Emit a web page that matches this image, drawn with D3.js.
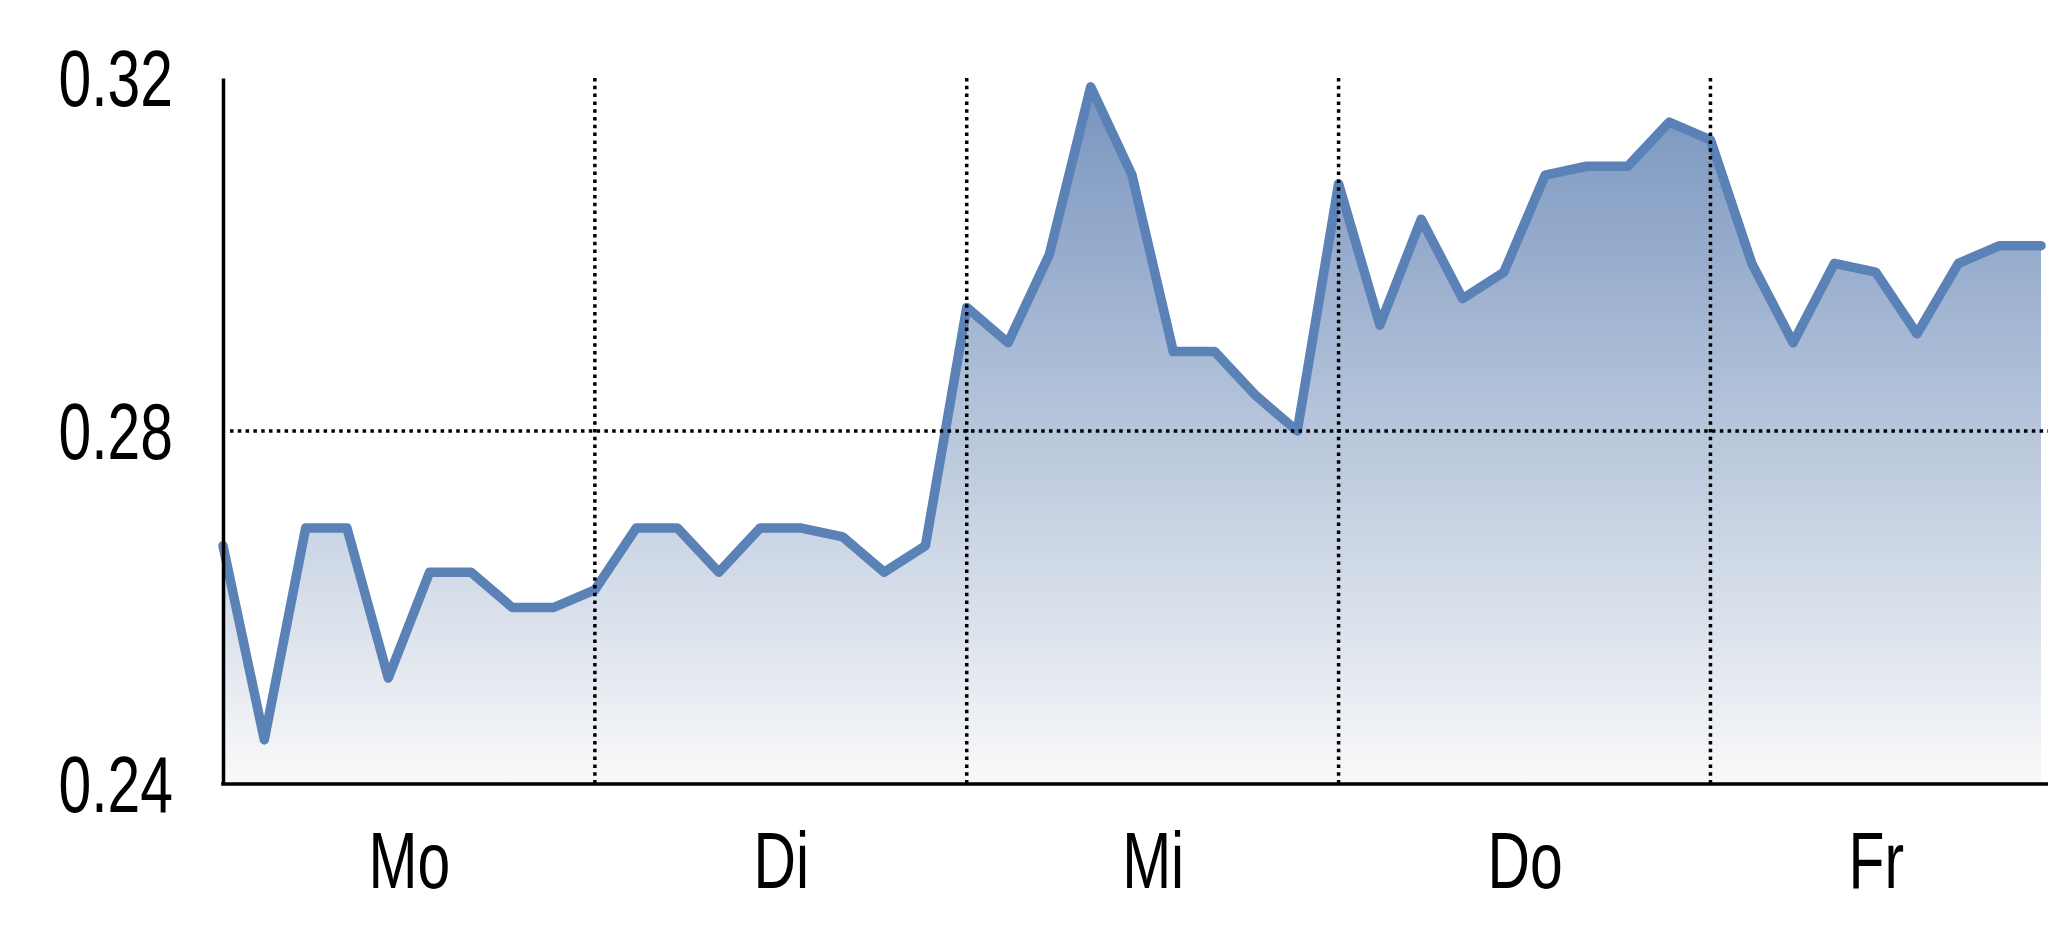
<!DOCTYPE html>
<html lang="de">
<head>
  <meta charset="UTF-8">
  <title>Wochenverlauf</title>
  <style>
    body { margin: 0; background: #fff; }
    svg { display: block; }
    text { font-family: "Liberation Sans", Arial, sans-serif; fill: #000; }
  </style>
</head>
<body>
  <svg width="2048" height="937"></svg>

  <script src="https://d3js.org/d3.v7.min.js"></script>
  <script>
    // data
    const DAYS = ["Mo", "Di", "Mi", "Do", "Fr"];
    const DAY_BOUNDS = [0, 9, 18, 27, 36, 44];   // point index where each day starts / ends
    const Y_TICKS = [0.24, 0.28, 0.32];
    const VALUES = [
      0.267, 0.245, 0.269, 0.269, 0.252, 0.264, 0.264, 0.260, 0.260,
      0.262, 0.269, 0.269, 0.264, 0.269, 0.269, 0.268, 0.264, 0.267,
      0.294, 0.290, 0.300, 0.319, 0.309, 0.289, 0.289, 0.284, 0.280,
      0.308, 0.292, 0.304, 0.295, 0.298, 0.309, 0.310, 0.310, 0.315,
      0.313, 0.299, 0.290, 0.299, 0.298, 0.291, 0.299, 0.301, 0.301
    ];

    const FONT_SIZE = 80;
    const SQUEEZE = 0.735;   // the labels use a condensed face

    const svg = d3.select("svg");
    const W = +svg.attr("width");

    const x = d3.scaleLinear().domain([0, VALUES.length - 1]).range([223, 2041]);
    const y = d3.scaleLinear().domain([0.24, 0.32]).range([784, 78]);

    const defs = svg.append("defs");
    const grad = defs.append("linearGradient")
      .attr("id", "fillGrad")
      .attr("gradientUnits", "userSpaceOnUse")
      .attr("x1", 0).attr("x2", 0)
      .attr("y1", y(0.32)).attr("y2", y(0.24));
    grad.append("stop").attr("offset", "0%").attr("stop-color", "#7693be");
    grad.append("stop").attr("offset", "100%").attr("stop-color", "#f9f9f9");

    const pts = VALUES.map((v, i) => ({ i, v }));

    const area = d3.area()
      .x(d => x(d.i))
      .y0(y(0.24))
      .y1(d => y(d.v));

    const line = d3.line()
      .x(d => x(d.i))
      .y(d => y(d.v));

    svg.append("path")
      .datum(pts)
      .attr("fill", "url(#fillGrad)")
      .attr("d", area);

    svg.append("path")
      .datum(pts)
      .attr("fill", "none")
      .attr("stroke", "#5a82b6")
      .attr("stroke-width", 9.5)
      .attr("stroke-linejoin", "round")
      .attr("stroke-linecap", "round")
      .attr("d", line);

    // dotted grid: day separators and the 0.28 line
    const dotted = sel => sel
      .attr("stroke", "#000")
      .attr("stroke-width", 3.5)
      .attr("stroke-dasharray", "3.5 4.3");

    svg.selectAll("line.day-sep")
      .data(DAY_BOUNDS.slice(1, -1))
      .join("line")
      .attr("class", "day-sep")
      .attr("x1", d => x(d)).attr("x2", d => x(d))
      .attr("y1", y(0.32)).attr("y2", y(0.24))
      .call(dotted);

    svg.append("line")
      .attr("x1", x(0) + 7).attr("x2", W)
      .attr("y1", y(0.28)).attr("y2", y(0.28))
      .call(dotted);

    // y axis
    const yAxis = svg.append("g")
      .attr("transform", `translate(${x(0)},0)`)
      .call(d3.axisLeft(y).tickValues(Y_TICKS).tickSize(0).tickSizeOuter(0).tickPadding(50).tickFormat(d3.format(".2f")));
    yAxis.select(".domain").attr("stroke", "#000").attr("stroke-width", 3.5);
    yAxis.selectAll("text")
      .attr("font-family", null)
      .attr("font-size", FONT_SIZE)
      .attr("dy", "0.34em");

    // x axis: labels centred in each day band
    const dayCenters = DAYS.map((_, k) => (DAY_BOUNDS[k] + DAY_BOUNDS[k + 1]) / 2);
    const xAxis = svg.append("g")
      .attr("transform", `translate(0,${y(0.24)})`)
      .call(d3.axisBottom(x).tickValues(dayCenters).tickSize(0).tickFormat((d, k) => DAYS[k]));
    xAxis.select(".domain").remove();
    xAxis.append("line")
      .attr("x1", x(0) - 1.75).attr("x2", W)
      .attr("stroke", "#000")
      .attr("stroke-width", 3.5);
    xAxis.selectAll("text")
      .attr("font-family", null)
      .attr("font-size", FONT_SIZE)
      .attr("dy", null)
      .attr("y", 104);

    svg.selectAll("g.tick text").each(function () {
      const w = this.getComputedTextLength();
      d3.select(this)
        .attr("textLength", w * SQUEEZE)
        .attr("lengthAdjust", "spacingAndGlyphs");
    });
  </script>
</body>
</html>
